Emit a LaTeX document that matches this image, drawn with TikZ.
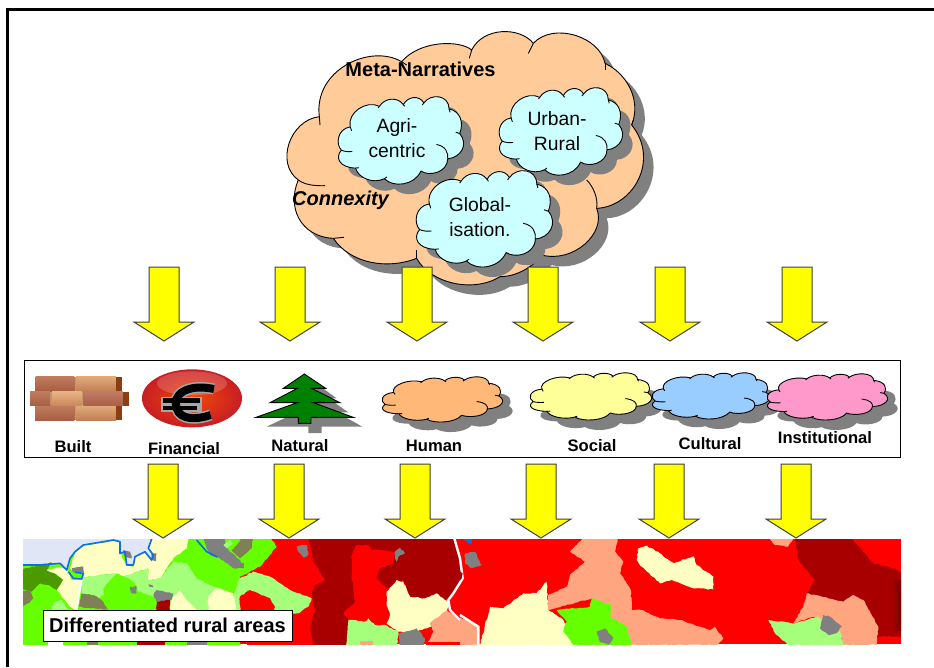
\documentclass[tikz,border=0pt]{standalone}
\usepackage{fontspec}
\usetikzlibrary{decorations.pathmorphing}
\setmainfont{Liberation Sans}
\definecolor{mred}{HTML}{FF0000}
\definecolor{mdark}{HTML}{A80000}
\definecolor{mlime}{HTML}{66FF00}
\definecolor{mpale}{HTML}{A6FF7A}
\definecolor{mcream}{HTML}{FFFFC4}
\definecolor{msalm}{HTML}{FFA680}
\definecolor{mgrey}{HTML}{808080}
\definecolor{molive}{HTML}{808055}
\definecolor{mgreen}{HTML}{4C9900}
\definecolor{msea}{HTML}{E0E6F5}
\definecolor{mblue}{HTML}{0A6EE6}
\definecolor{cpeach}{HTML}{FFCC99}
\definecolor{ccyan}{HTML}{CCFFFF}
\definecolor{chuman}{HTML}{FFB877}
\definecolor{csocial}{HTML}{FFFF99}
\definecolor{ccult}{HTML}{99CCFF}
\definecolor{cinst}{HTML}{FF99CC}
\definecolor{shadowgrey}{HTML}{808080}
\definecolor{arrowyellow}{HTML}{FFFF00}
\definecolor{treegreen}{HTML}{008000}
\definecolor{brickend}{HTML}{8A3E12}
\definecolor{brickgap}{HTML}{C99272}
\definecolor{coinrim}{HTML}{C81E22}
\definecolor{coinmid}{HTML}{F0480A}
\tikzset{
  cloudline/.style={draw=black,line width=0.9pt,line join=round},
  shadowfill/.style={fill=shadowgrey,draw=none},
  blockarrow/.style={fill=arrowyellow,draw=black!75,line width=1pt,line join=miter},
  capital/.style={font=\fontsize{16.6}{19}\selectfont\bfseries,inner sep=0pt},
  cloudtext/.style={font=\fontsize{19.3}{25}\selectfont,align=center,inner sep=0pt},
  rough/.style={decorate,decoration={random steps,segment length=2.5pt,amplitude=0.6pt}},
}
\newcommand{\cloudpath}{(35,182) .. controls (18,165) and (22,118) .. (62,112)
 .. controls (52,70) and (110,30) .. (150,50)
 .. controls (165,25) and (205,20) .. (222,45)
 .. controls (235,20) and (270,15) .. (284,40)
 .. controls (305,10) and (360,15) .. (360,58)
 .. controls (395,65) and (405,100) .. (392,132)
 .. controls (420,165) and (395,205) .. (356,208)
 .. controls (355,250) and (300,262) .. (275,245)
 .. controls (255,290) and (190,295) .. (165,268)
 .. controls (130,285) and (85,265) .. (78,236)
 .. controls (30,235) and (15,205) .. (35,182) -- cycle}
% xmin ymin xmax ymax fill
\newcommand{\smallcloud}[5]{%
 \pgfmathsetmacro{\sx}{(#3-#1)/380}\pgfmathsetmacro{\sy}{(#4-#2)/268}%
 \begin{scope}[shift={(#1+10,#2+10)},xscale=\sx,yscale=\sy,shift={(-25,-22)}]
  \path[shadowfill] \cloudpath;
 \end{scope}
 \begin{scope}[shift={(#1,#2)},xscale=\sx,yscale=\sy,shift={(-25,-22)}]
  \path[cloudline,fill=#5] \cloudpath;
  \draw[cloudline] (35,182) .. controls (45,187) and (58,187) .. (68,186);
  \draw[cloudline] (322,165) .. controls (350,170) and (358,190) .. (356,208);
  \draw[cloudline] (62,112) -- (66,124);
  \draw[cloudline] (392,132) -- (380,128);
  \draw[cloudline] (360,58) -- (363,68);
  \draw[cloudline] (150,50) -- (146,55);
  \draw[cloudline] (222,45) -- (226,50);
  \draw[cloudline] (284,40) -- (279,46);
  \draw[cloudline] (165,268) -- (172,263);
  \draw[cloudline] (78,236) -- (88,235);
 \end{scope}}
\newcommand{\mainpath}{(148,290) .. controls (60,300) and (15,430) .. (85,480)
 .. controls (50,560) and (90,650) .. (190,655)
 .. controls (240,730) and (350,750) .. (440,715)
 .. controls (480,790) and (610,820) .. (690,770)
 .. controls (740,770) and (790,740) .. (815,705)
 .. controls (910,730) and (1010,640) .. (980,565)
 .. controls (1090,560) and (1170,420) .. (1085,315)
 .. controls (1115,240) and (1070,160) .. (1005,130)
 .. controls (990,50) and (850,5) .. (790,70)
 .. controls (750,20) and (640,20) .. (605,90)
 .. controls (570,60) and (450,60) .. (395,125)
 .. controls (300,70) and (130,150) .. (148,290) -- cycle}
% centre, top, head line, tip
\newcommand{\blockdown}[4]{\path[blockarrow] (#1-15,#2) -- (#1+15,#2) -- (#1+15,#3) -- (#1+30,#3) -- (#1,#4) -- (#1-30,#3) -- (#1-15,#3) -- cycle;}
\newcommand{\poly}[2]{\fill[#1,rough] #2 -- cycle;}
\begin{document}
\begin{tikzpicture}[x=1pt,y=-1pt]
\pgfmathsetseed{7}
\useasboundingbox (0,0) rectangle (934,667);
\fill[white] (0,0) rectangle (934,667);
% sheet border
\draw[black,line width=3pt] (7.5,667) -- (7.5,9.5) -- (934,9.5);
% ---------- main cloud
\begin{scope}[shift={(280,30)},scale=1/3]
 \path[shadowfill] \mainpath;
\end{scope}
\begin{scope}[shift={(270,20)},scale=1/3]
 \path[cloudline,fill=cpeach] \mainpath;
 \draw[cloudline] (148,290) -- (150,315);
 \draw[cloudline] (85,480) .. controls (105,495) and (135,498) .. (165,497);
 \draw[cloudline] (190,655) -- (222,652);
 \draw[cloudline] (440,715) -- (440,690);
 \draw[cloudline] (980,565) .. controls (985,535) and (970,500) .. (950,480);
 \draw[cloudline] (1085,315) -- (1090,300);
 \draw[cloudline] (1005,130) -- (1005,150);
 \draw[cloudline] (790,70) -- (775,100);
 \draw[cloudline] (605,90) -- (598,115);
 \draw[cloudline] (395,125) -- (410,135);
\end{scope}
\node[font=\fontsize{20}{22}\selectfont\bfseries,inner sep=0pt] (meta) at (420.5,69) {Meta-Narratives};
\node[font=\fontsize{20}{22}\selectfont\bfseries\itshape,inner sep=0pt] (connexity) at (340.5,200) {Connexity};
\smallcloud{338}{97}{464}{186}{ccyan}
\smallcloud{499}{88}{623}{177}{ccyan}
\smallcloud{416}{171}{553}{269}{ccyan}
\node[cloudtext] (agri) at (397,138) {Agri-\\centric};
\node[cloudtext] (urban) at (557,131) {Urban-\\Rural};
\node[cloudtext] (global) at (480,217.5) {Global-\\isation.};
% ---------- upper arrows
\blockdown{164}{267}{322}{341}
\blockdown{290}{267}{322}{341}
\blockdown{417}{267}{322}{341}
\blockdown{543}{267}{322}{341}
\blockdown{670}{267}{322}{341}
\blockdown{797}{267}{322}{341}
% ---------- capitals box
\draw[black,line width=1pt,fill=white] (24,360) rectangle (900.5,457);
% bricks
\begin{scope}[shift={(20,365)},scale=1/3]
 \fill[brickgap] (45,35) rectangle (290,165);
 \fill[brickgap] (30,80) rectangle (310,122);
 \foreach \a/\b/\c/\d/\t/\u in {47/35/163/78/C07C5C/A85E42,168/35/288/78/E0AA78/C27F55,45/122/163/165/C07C5C/A85E42,168/122/288/165/E0AA78/C27F55,30/80/90/122/C07C5C/A85E42,96/80/185/122/E8B484/C98858,190/80/308/122/C07C62/A86048}{
  \definecolor{brt}{HTML}{\t}\definecolor{brb}{HTML}{\u}
  \shade[top color=brt,bottom color=brb] (\a,\b) rectangle (\c,\d);
 }
 \fill[brickend] (288,35) rectangle (305,78);
 \fill[brickend] (308,80) rectangle (328,122);
 \fill[brickend] (288,122) rectangle (305,165);
\end{scope}
% euro coin
\begin{scope}[shift={(20,365)},scale=1/3]
 \shade[inner color=coinmid,outer color=coinrim] (516,100) ellipse (150 and 87);
 \fill[white,opacity=.18] (516,55) ellipse (105 and 36);
 \draw[black!35,line width=11pt] (582,72) .. controls (500,55) and (455,90) .. (470,130) .. controls (480,165) and (530,165) .. (572,150);
 \fill[black!35] (423,95) rectangle (545,140);
 \draw[black,line width=8pt] (582,72) .. controls (500,55) and (455,90) .. (470,130) .. controls (480,165) and (530,165) .. (572,150);
 \fill[black] (428,100) rectangle (540,113);
 \fill[black] (428,122) rectangle (530,135);
\end{scope}
% tree
\begin{scope}[shift={(20,355)},scale=1/3]
 \path[shadowfill] (895,90) -- (950,130) -- (925,130) -- (985,172) -- (950,172) -- (1027,215) -- (905,215) -- (905,234) -- (865,234) -- (865,215) -- (740,215) -- (835,170) -- (835,100) -- cycle;
 \path[draw=black,fill=treegreen,line width=0.9pt,line join=miter] (853,57) -- (917,100) -- (875,100) -- (960,143) -- (880,143) -- (1000,187) -- (873,187) -- (873,205) -- (835,205) -- (835,187) -- (708,187) -- (832,143) -- (750,143) -- (832,100) -- (790,100) -- cycle;
\end{scope}
\smallcloud{382}{377}{503}{423}{chuman}
\smallcloud{530}{373}{652}{421}{csocial}
\smallcloud{652}{373}{770}{420}{ccult}
\smallcloud{767}{374}{888}{421}{cinst}
\node[capital] (built) at (73,447) {Built};
\node[capital] (financial) at (184,449) {Financial};
\node[capital] (natural) at (300,446) {Natural};
\node[capital] (human) at (434,446) {Human};
\node[capital] (social) at (592,446) {Social};
\node[capital] (cultural) at (710,444) {Cultural};
\node[capital] (institutional) at (825,438) {Institutional};
% ---------- map
\fill[mred] (23,539) rectangle (901,644);
\begin{scope}
\clip (23,539) rectangle (901,644);
\begin{scope}[shift={(20,535)},scale=1/3]
 \poly{mlime}{(0,0) -- (745,0) -- (770,35) -- (750,60) -- (720,95) -- (660,125) -- (660,340) -- (0,340)}
 \poly{msea}{(0,0) -- (395,0) -- (385,40) -- (400,60) -- (395,75) -- (375,50) -- (345,65) -- (340,90) -- (320,90) -- (315,50) -- (300,55) -- (300,20) -- (280,15) -- (190,30) -- (165,50) -- (150,70) -- (140,105) -- (120,85) -- (60,90) -- (0,90)}
 \poly{mpale}{(185,125) -- (280,115) -- (310,125) -- (350,110) -- (385,100) -- (385,135) -- (420,130) -- (460,80) -- (500,85) -- (530,130) -- (570,150) -- (600,160) -- (640,180) -- (660,130) -- (700,110) -- (750,125) -- (810,165) -- (875,190) -- (865,215) -- (835,235) -- (650,235) -- (270,235) -- (250,180) -- (235,190) -- (220,180) -- (185,175)}
 \poly{mcream}{(150,100) -- (165,55) -- (190,32) -- (280,18) -- (300,22) -- (305,60) -- (318,90) -- (340,95) -- (345,65) -- (375,55) -- (395,80) -- (405,60) -- (385,40) -- (395,0) -- (510,0) -- (500,40) -- (460,70) -- (440,100) -- (420,130) -- (385,135) -- (385,100) -- (350,110) -- (310,125) -- (280,115) -- (190,125) -- (190,110) -- (160,110)}
 \poly{mgreen}{(0,105) -- (60,90) -- (95,82) -- (80,105) -- (105,115) -- (130,135) -- (110,165) -- (85,150) -- (60,145) -- (45,160) -- (35,170) -- (0,160)}
 \poly{molive}{(0,170) -- (30,165) -- (40,190) -- (25,205) -- (0,215)}
 \poly{mpale}{(100,205) -- (125,195) -- (145,225) -- (95,225)}
 \poly{mcream}{(80,105) -- (120,95) -- (145,110) -- (155,135) -- (185,135) -- (175,190) -- (170,225) -- (150,215) -- (130,190) -- (110,165) -- (130,135) -- (105,115)}
 \poly{molive}{(175,215) -- (185,175) -- (220,180) -- (250,200) -- (265,225)}
 \poly{mlime}{(250,160) -- (290,115) -- (325,130) -- (345,145) -- (355,170) -- (410,190) -- (420,235) -- (270,235) -- (250,195)}
 \poly{mgrey}{(330,155) -- (350,155) -- (350,175) -- (335,175)}
 \fill[mgrey] (385,148) -- (397,150) -- (400,157) -- (388,155) -- cycle;
 \poly{mgrey}{(400,180) -- (410,165) -- (460,175) -- (455,195) -- (410,200)}
 \poly{mdark}{(410,200) -- (450,195) -- (450,235) -- (410,235)}
 \poly{mgrey}{(310,45) -- (330,50) -- (335,70) -- (315,65)}
 \poly{mgrey}{(395,55) -- (410,55) -- (408,78) -- (395,75)}
 \poly{mgrey}{(155,100) -- (190,95) -- (192,112) -- (160,112)}
 \poly{mcream}{(455,195) -- (480,165) -- (500,195) -- (540,235) -- (450,235)}
 \poly{mcream}{(565,185) -- (590,160) -- (640,175) -- (650,235) -- (565,235)}
 \poly{mgrey}{(545,0) -- (610,0) -- (625,45) -- (660,75) -- (670,100) -- (640,100) -- (600,70) -- (570,60)}
 \poly{molive}{(635,45) -- (660,20) -- (690,0) -- (700,0) -- (695,40) -- (660,70)}
 \fill[mpale] (610,30) -- (630,15) -- (638,25) -- (620,40) -- cycle;
 \draw[mblue,line width=1.6pt,line join=round] (9,90) -- (60,90) -- (120,85) -- (140,105) -- (150,70) -- (165,50) -- (190,30) -- (280,15) -- (300,20) -- (300,55) -- (315,50) -- (320,90) -- (340,90) -- (345,65) -- (375,50) -- (395,75) -- (400,60) -- (385,40) -- (395,12);
 \draw[mblue,line width=1.6pt,line join=round] (145,110) -- (160,130) -- (185,132) -- (190,115) -- (165,112);
 \draw[mblue,line width=1.6pt] (530,15) -- (560,50) -- (592,66);
 \draw[white,line width=2.2pt] (185,135) -- (175,190) -- (170,225);
 % strip under the label
 \fill[white] (85,320) rectangle (130,340);
 \fill[molive] (200,318) rectangle (235,340);
 \fill[mdark] (350,320) rectangle (435,340);
 \fill[mgrey] (500,320) rectangle (560,340);
 \fill[mred] (680,320) rectangle (900,340);
\end{scope}
\begin{scope}[shift={(240,535)},scale=1/3]
 \poly{mred}{(0,185) -- (30,165) -- (90,190) -- (105,215) -- (95,235) -- (0,235)}
 \poly{molive}{(0,0) -- (40,0) -- (30,40) -- (0,60)}
 \fill[mgrey] (0,85) rectangle (12,100);
 \poly{mdark}{(205,0) -- (640,0) -- (660,70) -- (665,130) -- (640,175) -- (615,195) -- (590,175) -- (555,190) -- (510,185) -- (490,135) -- (440,160) -- (410,130) -- (420,100) -- (460,85) -- (465,50) -- (420,45) -- (395,45) -- (385,30) -- (350,30) -- (335,60) -- (335,130) -- (345,200) -- (310,235) -- (325,250) -- (320,340) -- (220,340) -- (210,280) -- (225,225) -- (215,175) -- (225,150) -- (255,135) -- (220,80)}
 \poly{mgrey}{(170,35) -- (200,30) -- (205,60) -- (190,68) -- (175,50)}
 \poly{mgrey}{(465,50) -- (480,38) -- (495,55) -- (475,65) -- (470,80) -- (465,70)}
 \poly{mcream}{(440,170) -- (470,135) -- (490,140) -- (510,185) -- (555,190) -- (590,175) -- (615,195) -- (630,200) -- (620,230) -- (570,265) -- (575,275) -- (530,290) -- (475,290) -- (440,265) -- (450,240) -- (440,210)}
 \poly{msalm}{(620,225) -- (655,250) -- (695,268) -- (695,340) -- (555,340) -- (580,290) -- (570,265)}
 \poly{mpale}{(325,255) -- (375,260) -- (385,250) -- (405,270) -- (435,270) -- (475,290) -- (470,340) -- (318,340)}
 \poly{mgrey}{(478,295) -- (530,280) -- (555,310) -- (550,340) -- (478,340)}
 \fill[msalm] (360,318) rectangle (400,340);
 \fill[mred] (558,320) rectangle (690,340);
 \fill[mblue] (650,0) -- (695,0) -- (695,22) -- cycle;
 \draw[white,line width=2.4pt,line join=round] (640,0) -- (660,70) -- (668,130) -- (640,175) -- (625,195) -- (630,225) -- (660,255) -- (695,270);
 \poly{mgrey}{(672,60) -- (690,55) -- (695,85) -- (678,80)}
\end{scope}
\begin{scope}[shift={(460,530)},scale=1/3]
 \poly{msalm}{(0,262) -- (55,290) -- (55,345) -- (0,345)}
 \draw[white,line width=2.4pt] (0,255) -- (55,290) -- (55,345);
 \poly{mcream}{(60,345) -- (90,230) -- (130,235) -- (190,190) -- (230,190) -- (260,155) -- (265,240) -- (310,270) -- (330,310) -- (365,345)}
 \poly{msalm}{(265,195) -- (320,170) -- (330,135) -- (365,105) -- (375,95) -- (330,65) -- (375,20) -- (475,20) -- (465,65) -- (490,95) -- (480,130) -- (510,175) -- (515,210) -- (515,240) -- (545,240) -- (600,265) -- (660,270) -- (720,290) -- (750,300) -- (765,290) -- (790,325) -- (770,345) -- (515,345) -- (450,260) -- (395,205) -- (285,235) -- (265,240)}
 \poly{mlime}{(290,240) -- (390,230) -- (395,205) -- (455,225) -- (450,260) -- (500,290) -- (515,345) -- (340,345) -- (310,305) -- (320,275)}
 \poly{mgrey}{(410,305) -- (435,295) -- (460,325) -- (445,345) -- (420,335)}
 \poly{mcream}{(535,55) -- (560,47) -- (600,70) -- (640,100) -- (700,78) -- (710,105) -- (760,140) -- (760,178) -- (700,175) -- (635,150) -- (600,160) -- (545,110) -- (530,90)}
 \poly{msalm}{(925,20) -- (1005,20) -- (985,50) -- (945,45)}
 \poly{mdark}{(1005,20) -- (1170,20) -- (1240,100) -- (1300,115) -- (1330,130) -- (1330,320) -- (1250,320) -- (1255,290) -- (1210,210) -- (1180,195) -- (1150,215) -- (1040,190) -- (1065,150) -- (1015,90)}
 \shade[left color=mdark,right color=mdark!70!black] (1295,150) rectangle (1323,300);
 \poly{msalm}{(1040,190) -- (1150,215) -- (1180,195) -- (1210,210) -- (1255,290) -- (1250,345) -- (1150,345) -- (1140,305) -- (1060,260) -- (1000,280) -- (1030,230)}
 \poly{mpale}{(925,270) -- (1000,280) -- (1075,260) -- (1140,305) -- (1150,345) -- (985,345) -- (945,310)}
 \poly{mgrey}{(1090,255) -- (1110,260) -- (1145,290) -- (1130,310) -- (1105,315) -- (1080,295)}
 \poly{mgrey}{(15,70) -- (45,65) -- (65,105) -- (35,115) -- (15,100)}
 \fill[mblue] (0,20) -- (35,20) -- (35,45) -- (20,35) -- cycle;
 \fill[mdark] (0,125) -- (8,130) -- (5,145) -- (0,150) -- cycle;
\end{scope}
\end{scope}
\node[draw=black,line width=1pt,fill=white,minimum width=249pt,minimum height=31pt,inner sep=0pt,font=\fontsize{20}{24}\selectfont\bfseries] (areas) at (167.5,625.5) {Differentiated rural areas};
% ---------- lower arrows
\blockdown{163}{464}{519}{538}
\blockdown{289}{464}{519}{538}
\blockdown{415}{464}{519}{538}
\blockdown{541}{464}{519}{538}
\blockdown{669}{464}{519}{538}
\blockdown{796}{464}{519}{538}
\end{tikzpicture}
\end{document}
